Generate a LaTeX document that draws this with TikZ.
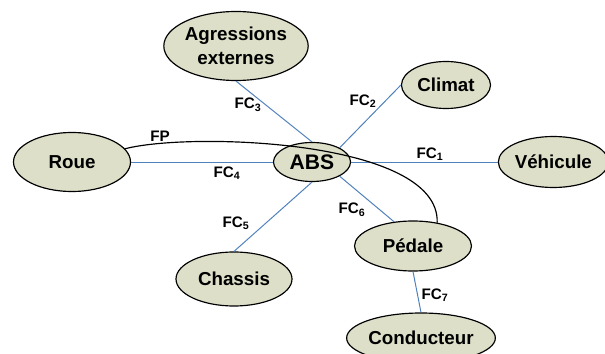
\documentclass[tikz,border=0pt]{standalone}
\usepackage{fontspec}
\setmainfont{Liberation Sans}
\usepackage{tikz}
\usetikzlibrary{shapes.geometric}
\definecolor{BulleFond}{HTML}{DDDFC8}
\definecolor{LienFC}{HTML}{4F81BD}

\begin{document}
\begin{tikzpicture}[
    bulle/.style={ellipse, draw=black, line width=1pt, fill=BulleFond,
      inner sep=0pt, align=center, font=\bfseries\fontsize{16}{20}\selectfont},
    lien/.style={LienFC, line width=0.85pt},
    fc/.style={font=\bfseries\fontsize{13}{14}\selectfont, inner sep=1pt}]
    \useasboundingbox (0,0) rectangle (18.15,10.62);
    % le systeme
    \node[bulle, minimum width=2.31cm, minimum height=1.17cm,
      font=\bfseries\fontsize{18}{19}\selectfont] (abs) at (9.36,5.76) {ABS};
    % les milieux exterieurs
    \node[bulle, minimum width=4.05cm, minimum height=2.07cm] (agr) at (7.08,9.24)
    {Agressions\\externes};
    \node[bulle, minimum width=2.67cm, minimum height=1.41cm] (clim) at (13.38,8.07) {Climat};
    \node[bulle, minimum width=3.51cm, minimum height=1.77cm] (roue) at (2.16,5.76) {Roue};
    \node[bulle, minimum width=3.3cm, minimum height=1.53cm] (veh) at (16.6,5.76) {Véhicule};
    \node[bulle, minimum width=3.51cm, minimum height=1.5cm] (ped) at (12.39,3.24) {Pédale};
    \node[bulle, minimum width=3.48cm, minimum height=1.62cm] (chas) at (7.02,2.25) {Chassis};
    \node[bulle, minimum width=4.2cm, minimum height=1.5cm] (cond) at (12.63,0.48) {Conducteur};
    % fonctions de contrainte
    \draw[lien] (abs.east) -- (veh.west);
    \draw[lien] (abs.north east) -- (clim.west);
    \draw[lien] (abs.north) -- (agr.south);
    \draw[lien] (roue.east) -- (abs.west);
    \draw[lien] (abs.south) -- (chas.north);
    \draw[lien] (abs.south east) -- (ped.128);
    \draw[lien] (ped.south) -- (cond.north);
    % fonction principale
    \draw[line width=1pt] (roue.14) .. controls +(1.95,0.51) and +(0.09,2.49) .. (ped.44);
    \node[fc] (fp) at (4.8,6.54) {FP};
    \node[fc] (fc1) at (12.9,6.0) {FC\textsubscript{1}};
    \node[fc] (fc2) at (10.89,7.59) {FC\textsubscript{2}};
    \node[fc] (fc3) at (7.44,7.47) {FC\textsubscript{3}};
    \node[fc] (fc4) at (6.81,5.43) {FC\textsubscript{4}};
    \node[fc] (fc5) at (7.08,3.93) {FC\textsubscript{5}};
    \node[fc] (fc6) at (10.56,4.32) {FC\textsubscript{6}};
    \node[fc] (fc7) at (13.05,1.77) {FC\textsubscript{7}};
\end{tikzpicture}
\end{document}
